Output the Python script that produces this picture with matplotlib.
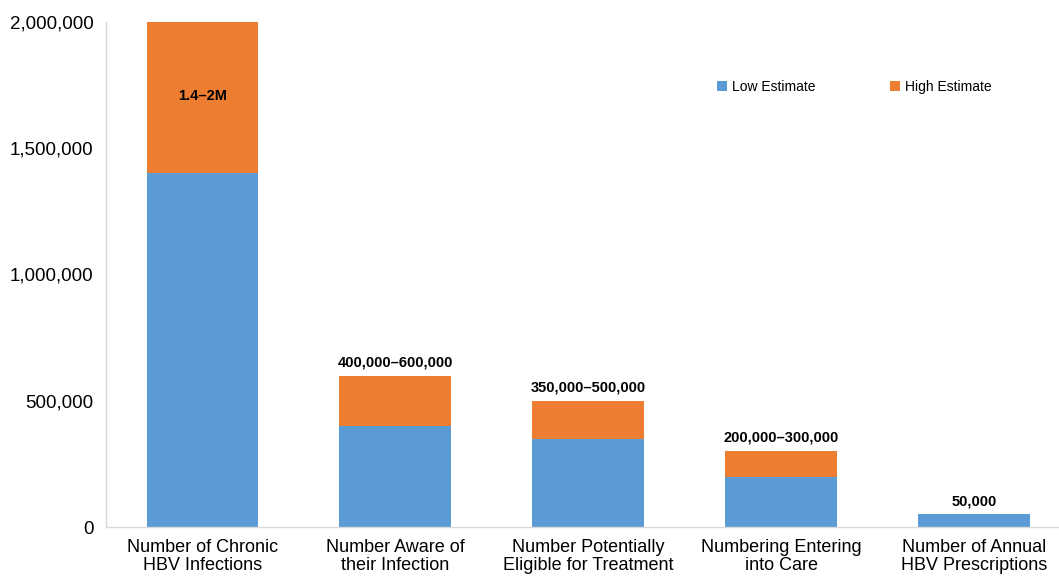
import numpy as np
import matplotlib
matplotlib.use("Agg")
import matplotlib.pyplot as plt
from matplotlib.ticker import FuncFormatter

categories = ["Number of Chronic\nHBV Infections",
              "Number Aware of\ntheir Infection",
              "Number Potentially\nEligible for Treatment",
              "Numbering Entering\ninto Care",
              "Number of Annual\nHBV Prescriptions"]
low_estimate = [1400000, 400000, 350000, 200000, 50000]
high_estimate = [2000000, 600000, 500000, 300000, 50000]
range_labels = ["1.4\u20132M", "400,000\u2013600,000", "350,000\u2013500,000",
                "200,000\u2013300,000", "50,000"]

plt.rcParams['font.family'] = ['Liberation Sans', 'DejaVu Sans']

fig = plt.figure(figsize=(10.59, 5.77), dpi=100)
ax = fig.add_axes([106 / 1059, 50 / 577, (1059 - 106) / 1059, 505 / 577])

x = np.arange(len(categories))
width = 0.58
diff = [h - l for h, l in zip(high_estimate, low_estimate)]
ax.bar(x, low_estimate, width, color="#5B9BD5", label="Low Estimate")
ax.bar(x, diff, width, bottom=low_estimate, color="#ED7D31", label="High Estimate")

# range labels: first one sits inside the orange block, others above bars
for i, txt in enumerate(range_labels):
    if i == 0:
        ax.text(x[i], 1705000, txt, ha="center", va="center",
                fontsize=10.5, fontweight="bold", fontstretch="condensed")
    else:
        ax.text(x[i], high_estimate[i] + 25000, txt, ha="center", va="bottom",
                fontsize=10.5, fontweight="bold", fontstretch="condensed")

ax.set_xlim(-0.5, 4.44)
ax.set_ylim(0, 2000000)
ax.set_yticks([0, 500000, 1000000, 1500000, 2000000])
ax.yaxis.set_major_formatter(FuncFormatter(lambda v, p: "{:,.0f}".format(v)))
ax.set_xticks(x)
ax.set_xticklabels(categories, fontsize=13, linespacing=1.05)
ax.tick_params(axis="y", labelsize=13.5, length=0, pad=9)
ax.tick_params(axis="x", length=0, pad=9)

for side in ["top", "right"]:
    ax.spines[side].set_visible(False)
for side in ["left", "bottom"]:
    ax.spines[side].set_color("#d9d9d9")
    ax.spines[side].set_linewidth(1)

leg = ax.legend(loc="upper left", bbox_to_anchor=(0.628, 0.91), ncol=2,
                frameon=False, fontsize=10, handlelength=0.7, handleheight=0.7,
                handletextpad=0.4, columnspacing=5.35)

fig.savefig("out.png", dpi=100)
